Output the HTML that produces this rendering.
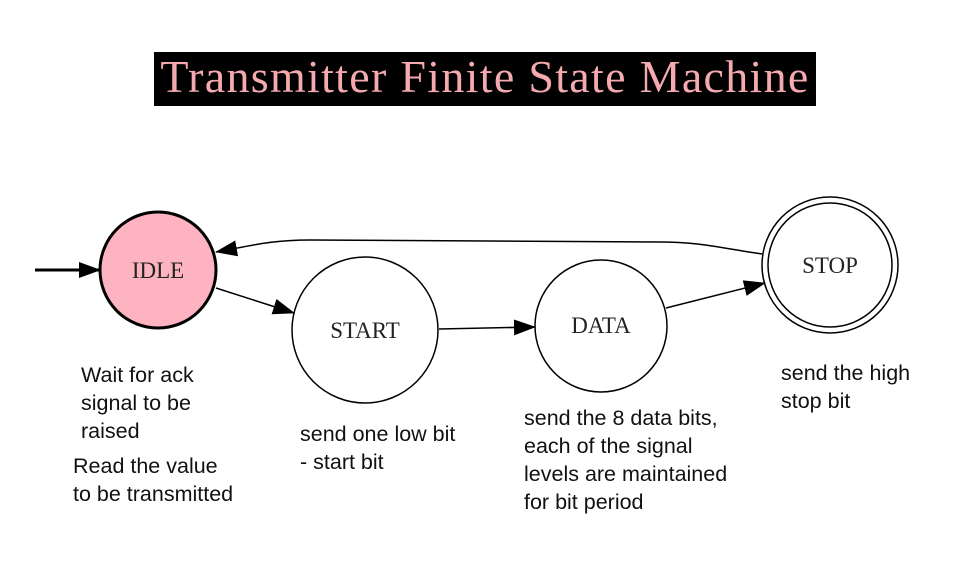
<!DOCTYPE html>
<html><head><style>
body{margin:0;width:967px;height:565px;background:#fff;overflow:hidden;position:relative;font-family:"Liberation Serif",serif}
.t{position:absolute;font-family:"Liberation Sans",sans-serif;font-size:21.5px;line-height:28px;color:#111;white-space:nowrap}
</style></head><body>
<div style="position:absolute;left:154px;top:52px;width:662px;height:54px;background:#000;color:#f4aaae;font-size:46px;line-height:50px;text-align:center;letter-spacing:1.3px">Transmitter Finite State Machine</div>
<svg width="967" height="565" style="position:absolute;left:0;top:0">
<defs><marker id="b" markerWidth="22" markerHeight="16" refX="21" refY="8" orient="auto" markerUnits="userSpaceOnUse" viewBox="0 0 22 16"><path d="M0,0L22,8L0,16z" fill="#000"/></marker></defs>
<line x1="35" y1="270" x2="100" y2="270" stroke="#000" stroke-width="3" marker-end="url(#b)"/>
<circle cx="158" cy="270" r="58" fill="#feb4c0" stroke="#000" stroke-width="3"/>
<circle cx="365" cy="330" r="73" fill="#fff" stroke="#000" stroke-width="1.5"/>
<circle cx="601" cy="326" r="66" fill="#fff" stroke="#000" stroke-width="1.5"/>
<circle cx="830" cy="265" r="68" fill="#fff" stroke="#000" stroke-width="1.5"/>
<circle cx="830" cy="265" r="62" fill="none" stroke="#000" stroke-width="1.5"/>
<path d="M216,288 L294,313" stroke="#000" stroke-width="1.5" fill="none" marker-end="url(#b)"/>
<path d="M439,329 L535,327" stroke="#000" stroke-width="1.5" fill="none" marker-end="url(#b)"/>
<path d="M666,308 L765,283" stroke="#000" stroke-width="1.5" fill="none" marker-end="url(#b)"/>
<path d="M762,254 C720,248 700,242 660,242 L310,240 C270,240 250,246 216,252" stroke="#000" stroke-width="1.5" fill="none" marker-end="url(#b)"/>
<g font-family="Liberation Serif,serif" font-size="23" text-anchor="middle" fill="#222">
<text x="158" y="278">IDLE</text><text x="365" y="338">START</text><text x="601" y="333">DATA</text><text x="830" y="273">STOP</text></g>
</svg>
<div class="t" style="left:81px;top:361px">Wait for ack<br>signal to be<br>raised</div>
<div class="t" style="left:73px;top:452px">Read the value<br>to be transmitted</div>
<div class="t" style="left:300px;top:420px">send one low bit<br>- start bit</div>
<div class="t" style="left:524px;top:404px">send the 8 data bits,<br>each of the signal<br>levels are maintained<br>for bit period</div>
<div class="t" style="left:781px;top:359px">send the high<br>stop bit</div>
</body></html>
